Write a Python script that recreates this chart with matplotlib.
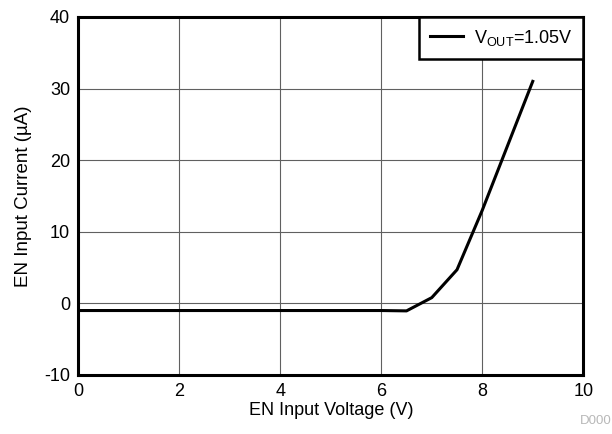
import matplotlib
matplotlib.use("Agg")
import matplotlib.pyplot as plt

plt.rcParams['font.family'] = ['Liberation Sans', 'DejaVu Sans']
plt.rcParams['axes.unicode_minus'] = False

voltage = [0, 1, 2, 3, 4, 5, 6, 6.5, 7.0, 7.5, 8.0, 8.5, 9.0]
current = [-1, -1, -1, -1, -1, -1, -1, -1.05, 0.8, 4.7, 13, 22, 31]

fig = plt.figure(figsize=(6.12, 4.34), dpi=100)
ax = fig.add_axes([0.128, 0.136, 0.825, 0.825])
ax.plot(voltage, current, color='black', lw=2.2, label=r'V$_{\mathregular{OUT}}$=1.05V')
ax.set_xlim(0, 10)
ax.set_ylim(-10, 40)
ax.set_xticks([0, 2, 4, 6, 8, 10])
ax.set_yticks([-10, 0, 10, 20, 30, 40])
ax.grid(True, color='#606060', lw=0.8)
for s in ax.spines.values():
    s.set_linewidth(2.2)
ax.tick_params(length=0, labelsize=13, pad=6)
ax.set_xlabel('EN Input Voltage (V)', fontsize=13, labelpad=1)
ax.set_ylabel('EN Input Current (µA)', fontsize=13.5, labelpad=9)
leg = ax.legend(loc='upper right', fontsize=13, fancybox=False, framealpha=1,
                borderaxespad=0, handlelength=1.8, handletextpad=0.6, borderpad=0.6)
leg.get_frame().set_edgecolor('black')
leg.get_frame().set_linewidth(1.8)
fig.text(0.999, 0.015, 'D000', fontsize=9.5, color='#b8b8b8', ha='right', va='bottom')
fig.savefig('out.png', dpi=100)
